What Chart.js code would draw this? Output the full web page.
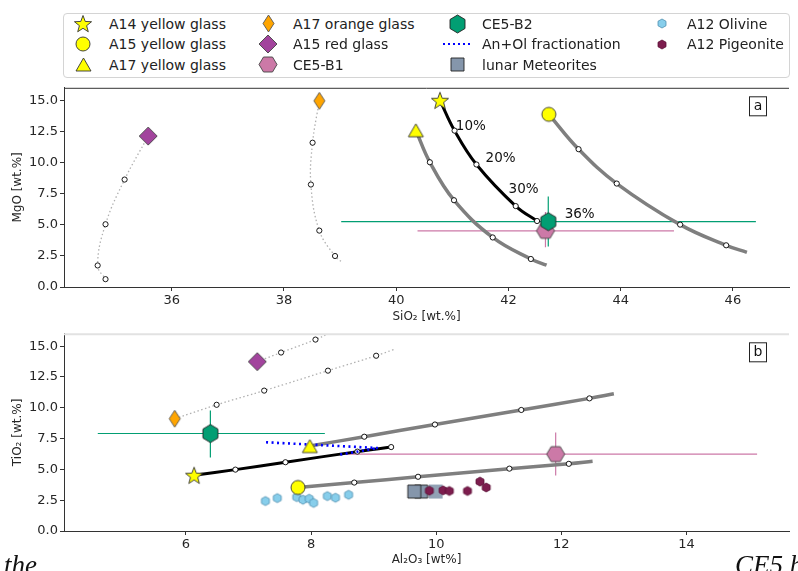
<!DOCTYPE html>
<html>
<head>
<meta charset="utf-8">
<script src="https://cdn.jsdelivr.net/npm/chart.js@4.4.1/dist/chart.umd.min.js"></script>
<style>
  body { margin: 0; width: 798px; height: 571px; overflow: hidden; position: relative; background: #fff; font-family: "DejaVu Sans", sans-serif; }
  canvas.panel { position: absolute; left: 0; }
  #legend { position: absolute; left: 63px; top: 13px; width: 725px; height: 63px; border: 1px solid #d4d4d4; border-radius: 4px; }
  .mk { position: absolute; }
  .lbl { position: absolute; font-size: 14px; line-height: 16px; color: #222; white-space: nowrap; }
  .page { position: absolute; top: 550px; font: italic 27px/30px "Liberation Serif", serif; color: #111; white-space: nowrap; }
</style>
</head>
<body>
<div id="legend"></div>
<canvas id="panelA" class="panel" width="798" height="246" style="top:78px"></canvas>
<canvas id="panelB" class="panel" width="798" height="247" style="top:324px"></canvas>
<div class="page" style="left:4px">the</div>
<div class="page" style="left:735px">CE5 b</div>
<script>
// ---- panel a: SiO2 vs MgO (first value of each path = glass composition)
var a14SiO2 = [40.78, 41.04, 41.43, 42.13, 42.51];
var a14MgO = [15.0, 12.56, 9.84, 6.50, 5.30];
var a15YellowSiO2 = [42.72, 43.25, 43.93, 45.06, 45.88, 46.25];
var a15YellowMgO = [13.87, 11.07, 8.31, 5.01, 3.35, 2.78];
var a17YellowSiO2 = [40.35, 40.60, 41.03, 41.72, 42.40, 42.68];
var a17YellowMgO = [12.59, 10.02, 6.97, 3.98, 2.25, 1.75];
var a17OrangeSiO2 = [38.63, 38.51, 38.48, 38.63, 38.91, 39.05];
var a17OrangeMgO = [14.95, 11.59, 8.23, 4.53, 2.49, 1.94];
var a15RedSiO2 = [35.58, 35.16, 34.82, 34.68, 34.82];
var a15RedMgO = [12.12, 8.63, 5.04, 1.73, 0.63];
var ce5B1SiO2 = [42.66, 40.38, 44.95];   // value, low, high
var ce5B1MgO = [4.51, 3.20, 6.03];
var ce5B2SiO2 = [42.71, 39.02, 46.41];
var ce5B2MgO = [5.25, 3.25, 7.26];
var fracLabels = ['10%', '20%', '30%', '36%'];
var fracLabelSiO2 = [41.33, 41.86, 42.27, 43.27];
var fracLabelMgO = [12.9, 10.33, 7.87, 5.82];

// ---- panel b: Al2O3 vs TiO2
var a14Al2O3 = [6.13, 6.79, 7.59, 8.74, 9.28];
var a14TiO2 = [4.53, 4.98, 5.58, 6.44, 6.81];
var a15YellowAl2O3 = [7.79, 8.69, 9.71, 11.17, 12.12, 12.50];
var a15YellowTiO2 = [3.53, 3.93, 4.40, 5.06, 5.45, 5.65];
var a17YellowAl2O3 = [7.98, 8.85, 9.98, 11.36, 12.45, 12.84];
var a17YellowTiO2 = [6.89, 7.65, 8.64, 9.82, 10.76, 11.13];
var a17OrangeAl2O3 = [5.82, 6.49, 7.25, 8.27, 9.04, 9.32];
var a17OrangeTiO2 = [9.11, 10.24, 11.39, 13.01, 14.22, 14.72];
var a15RedAl2O3 = [7.14, 7.52, 8.07, 8.27];
var a15RedTiO2 = [13.74, 14.48, 15.53, 16.0];
var ce5B1Al2O3 = [11.91, 8.56, 15.13];
var ce5B1TiO2 = [6.24, 4.51, 7.99];
var ce5B2Al2O3 = [6.39, 4.59, 8.22];
var ce5B2TiO2 = [7.91, 5.97, 9.77];
var anOlAl2O3 = [7.28, 9.07, 8.42];
var anOlTiO2 = [7.20, 6.73, 6.16];
var olivineAl2O3 = [7.27, 7.46, 7.77, 7.87, 7.97, 8.04, 8.26, 8.39, 8.60];
var olivineTiO2 = [2.43, 2.67, 2.75, 2.54, 2.62, 2.28, 2.83, 2.70, 2.94];
var pigeoniteAl2O3 = [9.89, 10.11, 10.21, 10.50, 10.70, 10.80];
var pigeoniteTiO2 = [3.27, 3.30, 3.25, 3.25, 4.01, 3.53];
var meteoriteAl2O3 = [9.99, 9.76, 9.65];
var meteoriteTiO2 = [3.20, 3.20, 3.20];


var FONT = '"DejaVu Sans", sans-serif';
var TXT = '#262626';
var EDGE = '#333';
var GREEN = '#029e73';
var PINK = '#cc79a7';
var GRAY = '#7f7f7f';
var STEP_R = 2.6;


function makeMarker(shape, w, h, fill, edge, lw) {
  var pad = Math.ceil(lw) + 1;
  var c = document.createElement('canvas');
  c.width = Math.ceil(w + 2 * pad);
  c.height = Math.ceil(h + 2 * pad);
  var ctx = c.getContext('2d');
  var cx = c.width / 2, cy = c.height / 2, rx = w / 2, ry = h / 2;
  ctx.beginPath();
  if (shape == 'circle') {
    ctx.ellipse(cx, cy, rx, ry, 0, 0, 2 * Math.PI);
  } else if (shape == 'diamond') {
    ctx.moveTo(cx, cy - ry); ctx.lineTo(cx + rx, cy);
    ctx.lineTo(cx, cy + ry); ctx.lineTo(cx - rx, cy);
  } else if (shape == 'triangle') {
    ctx.moveTo(cx, cy - ry); ctx.lineTo(cx + rx, cy + ry); ctx.lineTo(cx - rx, cy + ry);
  } else if (shape == 'hex') {
    ctx.moveTo(cx, cy - ry); ctx.lineTo(cx + rx, cy - ry / 2); ctx.lineTo(cx + rx, cy + ry / 2);
    ctx.lineTo(cx, cy + ry); ctx.lineTo(cx - rx, cy + ry / 2); ctx.lineTo(cx - rx, cy - ry / 2);
  } else if (shape == 'hexflat') {
    ctx.moveTo(cx - rx, cy); ctx.lineTo(cx - rx / 2, cy - ry); ctx.lineTo(cx + rx / 2, cy - ry);
    ctx.lineTo(cx + rx, cy); ctx.lineTo(cx + rx / 2, cy + ry); ctx.lineTo(cx - rx / 2, cy + ry);
  } else if (shape == 'star') {
    for (var i = 0; i < 10; i++) {
      var r = i % 2 ? rx * 0.42 : rx;
      var ang = -Math.PI / 2 + i * Math.PI / 5;
      ctx.lineTo(cx + r * Math.cos(ang), cy + 1 + r * Math.sin(ang));
    }
  } else if (shape == 'square') {
    ctx.rect(cx - rx, cy - ry, w, h);
  } else if (shape == 'dotline') {
    ctx.moveTo(0, cy); ctx.lineTo(c.width, cy);
    ctx.setLineDash([2, 3]);
    ctx.strokeStyle = fill; ctx.lineWidth = 2.2; ctx.stroke();
    return c;
  }
  ctx.closePath();
  ctx.fillStyle = fill;
  ctx.fill();
  if (lw > 0) {
    ctx.strokeStyle = edge;
    ctx.lineWidth = lw;
    ctx.stroke();
  }
  return c;
}


var MARK = {
  a14: function() { return makeMarker('star', 18, 17, '#ffff00', EDGE, 0.9); },
  a15y: function() { return makeMarker('circle', 14, 14, '#ffff00', EDGE, 0.9); },
  a17y: function() { return makeMarker('triangle', 15, 13, '#ffff00', EDGE, 0.9); },
  a17o: function() { return makeMarker('diamond', 11, 17, '#ffa500', '#555', 0.9); },
  a15r: function() { return makeMarker('diamond', 18, 18, '#a2449d', '#444', 0.9); },
  b1: function() { return makeMarker('hexflat', 18, 15, PINK, '#444', 0.9); },
  b2: function() { return makeMarker('hex', 15, 18, GREEN, '#222', 0.9); },
  anOl: function() { return makeMarker('dotline', 26, 2, '#0000ff', null, 0); },
  met: function() { return makeMarker('square', 13, 13, '#8596ab', '#222', 0.9); },
  metLight: function() { return makeMarker('square', 14, 14, '#92a2b5', '#92a2b5', 0); },
  oli: function() { return makeMarker('hex', 8, 9, '#87ceeb', '#4f8fb0', 0.8); },
  pig: function() { return makeMarker('hex', 8, 9, '#7d1d4e', '#5a1036', 0.8); }
};


function zip(xs, ys) {
  return xs.map(function(x, i) { return {x: x, y: ys[i]}; });
}


// Fractionation path: starts at the glass, small white circles at each step.
function pathSet(xs, ys, color, width, dash, lastIsStep) {
  var radii = xs.map(function(v, i) {
    if (i == 0) return 0;
    if (i == xs.length - 1 && !lastIsStep) return 0;
    return STEP_R;
  });
  return {
    data: zip(xs, ys),
    showLine: true,
    borderColor: color,
    borderWidth: width,
    borderDash: dash || [],
    tension: 0.4,
    pointRadius: radii,
    pointBackgroundColor: '#fff',
    pointBorderColor: '#000',
    pointBorderWidth: 0.9,
    order: 3,
  };
}


function markerSet(xs, ys, style, order) {
  return {
    data: zip(xs, ys),
    showLine: false,
    pointStyle: style,
    pointRadius: 8,
    order: order,
  };
}


function errorSets(xs, ys, color) {
  var common = {showLine: true, borderColor: color, borderWidth: 1.2, pointRadius: 0, order: 5};
  return [
    Object.assign({data: [{x: xs[1], y: ys[0]}, {x: xs[2], y: ys[0]}]}, common),
    Object.assign({data: [{x: xs[0], y: ys[1]}, {x: xs[0], y: ys[2]}]}, common),
  ];
}


var decoPlugin = {
  id: 'deco',
  afterDraw: function(chart, args, opts) {
    var ctx = chart.ctx, a = chart.chartArea;
    var sx = chart.scales.x, sy = chart.scales.y;
    ctx.save();
    ctx.strokeStyle = opts.topColor;
    ctx.lineWidth = opts.topWidth;
    ctx.beginPath();
    ctx.moveTo(a.left, a.top + 0.5);
    ctx.lineTo(a.right, a.top + 0.5);
    ctx.stroke();

    ctx.font = '13.5px ' + FONT;
    ctx.fillStyle = '#111';
    ctx.textAlign = 'center';
    ctx.textBaseline = 'middle';
    (opts.notes || []).forEach(function(n) {
      ctx.fillText(n.text, sx.getPixelForValue(n.x), sy.getPixelForValue(n.y));
    });

    var bx = a.right - 31, by = a.top + 18.5;
    ctx.fillStyle = '#fff';
    ctx.fillRect(bx - 9, by - 10, 18, 20);
    ctx.strokeStyle = '#222';
    ctx.lineWidth = 1;
    ctx.strokeRect(bx - 8.5, by - 9.5, 17, 19);
    ctx.fillStyle = '#111';
    ctx.font = '14px ' + FONT;
    ctx.fillText(opts.letter, bx, by);
    ctx.restore();
  }
};


function scales(xmin, xmax, xtitle, ytitle, xHeight, xTitlePad) {
  var tickFont = {size: 13, family: FONT};
  var titleFont = {size: 12, family: FONT};
  return {
    x: {
      type: 'linear', min: xmin, max: xmax,
      afterFit: function(s) { s.height = xHeight; },
      ticks: {stepSize: 2, includeBounds: false, font: tickFont, color: TXT, padding: 2, maxRotation: 0},
      grid: {drawOnChartArea: false, tickLength: 4, tickColor: EDGE},
      border: {color: EDGE, width: 1},
      title: {display: true, text: xtitle, font: titleFont, color: TXT, padding: {top: 0, bottom: xTitlePad}},
    },
    y: {
      type: 'linear', min: 0, max: 16,
      afterFit: function(s) { s.width = 64; },
      ticks: {
        stepSize: 2.5, includeBounds: false, font: tickFont, color: TXT, padding: 2,
        callback: function(v) { return v.toFixed(1); },
      },
      grid: {drawOnChartArea: false, tickLength: 4, tickColor: EDGE},
      border: {color: EDGE, width: 1},
      title: {display: true, text: ytitle, font: titleFont, color: TXT, padding: {top: 11, bottom: 0}},
    },
  };
}


function baseOptions(padTop, sc, deco) {
  return {
    responsive: false,
    animation: false,
    events: [],
    layout: {padding: {top: padTop, left: 0, right: 0, bottom: 0}},
    scales: sc,
    plugins: {legend: {display: false}, tooltip: {enabled: false}, deco: deco},
  };
}


// ---- panel a
var dotted = [1.5, 2.5];
var setsA = [
  markerSet([ce5B2SiO2[0]], [ce5B2MgO[0]], MARK.b2(), 0),
  markerSet([ce5B1SiO2[0]], [ce5B1MgO[0]], MARK.b1(), 1),
  markerSet([a14SiO2[0]], [a14MgO[0]], MARK.a14(), 1),
  markerSet([a15YellowSiO2[0]], [a15YellowMgO[0]], MARK.a15y(), 1),
  markerSet([a17YellowSiO2[0]], [a17YellowMgO[0]], MARK.a17y(), 1),
  markerSet([a17OrangeSiO2[0]], [a17OrangeMgO[0]], MARK.a17o(), 1),
  markerSet([a15RedSiO2[0]], [a15RedMgO[0]], MARK.a15r(), 1),
  pathSet(a14SiO2, a14MgO, '#000', 3, null, true),
  pathSet(a15YellowSiO2, a15YellowMgO, GRAY, 3.5, null, false),
  pathSet(a17YellowSiO2, a17YellowMgO, GRAY, 3.5, null, false),
  pathSet(a17OrangeSiO2, a17OrangeMgO, '#b0b0b0', 1.3, dotted, false),
  pathSet(a15RedSiO2, a15RedMgO, '#b0b0b0', 1.3, dotted, true),
].concat(errorSets(ce5B2SiO2, ce5B2MgO, GREEN), errorSets(ce5B1SiO2, ce5B1MgO, PINK));

new Chart(document.getElementById('panelA'), {
  type: 'scatter',
  data: {datasets: setsA},
  options: baseOptions(6, scales(34.08, 47, 'SiO\u2082 [wt.%]', 'MgO [wt.%]', 37, 0), {
    letter: 'a', topColor: EDGE, topWidth: 1,
    notes: fracLabels.map(function(t, i) { return {text: t, x: fracLabelSiO2[i], y: fracLabelMgO[i]}; }),
  }),
  plugins: [decoPlugin],
});


// ---- panel b
var setsB = [
  markerSet([ce5B2Al2O3[0]], [ce5B2TiO2[0]], MARK.b2(), 0),
  markerSet([ce5B1Al2O3[0]], [ce5B1TiO2[0]], MARK.b1(), 0),
  markerSet([a14Al2O3[0]], [a14TiO2[0]], MARK.a14(), 0),
  markerSet([a15YellowAl2O3[0]], [a15YellowTiO2[0]], MARK.a15y(), 0),
  markerSet([a17YellowAl2O3[0]], [a17YellowTiO2[0]], MARK.a17y(), 0),
  markerSet([a17OrangeAl2O3[0]], [a17OrangeTiO2[0]], MARK.a17o(), 0),
  markerSet([a15RedAl2O3[0]], [a15RedTiO2[0]], MARK.a15r(), 0),
  markerSet(pigeoniteAl2O3, pigeoniteTiO2, MARK.pig(), 1),
  {
    data: zip(meteoriteAl2O3, meteoriteTiO2), showLine: false, pointRadius: 8, order: 2,
    pointStyle: [MARK.metLight(), MARK.met(), MARK.met()],
  },
  markerSet(olivineAl2O3, olivineTiO2, MARK.oli(), 1),
  {
    data: zip(anOlAl2O3, anOlTiO2), showLine: true, borderColor: '#0000ff', borderWidth: 2.6,
    borderDash: [2, 3.5], pointRadius: 0, order: 2,
  },
  pathSet(a14Al2O3, a14TiO2, '#000', 3, null, true),
  pathSet(a15YellowAl2O3, a15YellowTiO2, GRAY, 3.5, null, false),
  pathSet(a17YellowAl2O3, a17YellowTiO2, GRAY, 3.5, null, false),
  pathSet(a17OrangeAl2O3, a17OrangeTiO2, '#b0b0b0', 1.3, dotted, false),
  pathSet(a15RedAl2O3, a15RedTiO2, '#b0b0b0', 1.3, dotted, false),
].concat(errorSets(ce5B2Al2O3, ce5B2TiO2, GREEN), errorSets(ce5B1Al2O3, ce5B1TiO2, PINK));

new Chart(document.getElementById('panelB'), {
  type: 'scatter',
  data: {datasets: setsB},
  options: baseOptions(3, scales(4.05, 15.64, 'Al\u2082O\u2083 [wt%]', 'TiO\u2082 [wt.%]', 40, 4), {
    letter: 'b', topColor: '#e2e2e2', topWidth: 2, notes: [],
  }),
  plugins: [decoPlugin],
});


// ---- legend (matplotlib-style, 4 columns)
var legendItems = [
  ['A14 yellow glass', MARK.a14], ['A15 yellow glass', MARK.a15y], ['A17 yellow glass', MARK.a17y],
  ['A17 orange glass', MARK.a17o], ['A15 red glass', MARK.a15r], ['CE5-B1', MARK.b1],
  ['CE5-B2', MARK.b2], ['An+Ol fractionation', MARK.anOl], ['lunar Meteorites', MARK.met],
  ['A12 Olivine', MARK.oli], ['A12 Pigeonite', MARK.pig],
];
var colMarkX = [83, 268, 457, 662];
var colTextX = [109, 293, 482, 687];
var rowY = [23.5, 44, 64.5];

legendItems.forEach(function(item, i) {
  var col = Math.floor(i / 3), row = i % 3;
  var c = item[1]();
  c.className = 'mk';
  c.style.left = (colMarkX[col] - c.width / 2) + 'px';
  c.style.top = (rowY[row] - c.height / 2) + 'px';
  document.body.appendChild(c);
  var s = document.createElement('span');
  s.className = 'lbl';
  s.textContent = item[0];
  s.style.left = colTextX[col] + 'px';
  s.style.top = (rowY[row] - 8) + 'px';
  document.body.appendChild(s);
});
</script>
</body>
</html>
